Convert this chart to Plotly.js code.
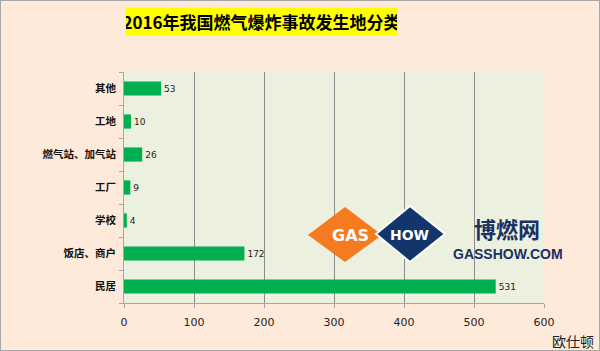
<!DOCTYPE html>
<html><head><meta charset="utf-8">
<script src="https://cdn.plot.ly/plotly-3.0.1.min.js"></script>
<style>
html,body{margin:0;padding:0;background:#FDEADA;}
#wrap{width:598px;height:349px;border:1px solid #A6A6A6;background:#FDEADA;overflow:hidden;}
#chart{width:598px;height:349px;}
</style></head><body>
<div id="wrap"><div id="chart"></div></div>
<script>
const categories = ["民居", "饭店、商户", "学校", "工厂", "燃气站、加气站", "工地", "其他"];
const counts = [531, 172, 4, 9, 26, 10, 53];
const xTicks = [0, 100, 200, 300, 400, 500, 600];
const titleText = "2016年我国燃气爆炸事故发生地分类";

const W = 598, H = 349;
const M = {l: 123, r: 55, t: 71, b: 47};
const pw = W - M.l - M.r, ph = H - M.t - M.b;
function px(x){ return (x - 1 - M.l) / pw; }
function py(y){ return (H - M.b - (y - 1)) / ph; }
function poly(pts){ return "M" + pts.map(p => px(p[0]) + "," + py(p[1])).join(" L") + " Z"; }
function ann(x, y, text, font, extra){
  return Object.assign({xref: "paper", yref: "paper", x: px(x), y: py(y), text: text, showarrow: false,
    xanchor: "center", yanchor: "middle", borderpad: 0, font: font}, extra || {});
}

const trace = {
  type: "bar", orientation: "h",
  y: categories, x: counts,
  marker: {color: "#00B050", line: {width: 0}},
  text: counts.map(String), textposition: "outside",
  textfont: {family: "DejaVu Sans, sans-serif", size: 9, color: "#222"},
  cliponaxis: false, hoverinfo: "none"
};

const layout = {
  width: W, height: H,
  margin: M,
  paper_bgcolor: "#FDEADA", plot_bgcolor: "#EBF1DE",
  showlegend: false, bargap: 0.57,
  xaxis: {
    range: [0, 600], tickvals: xTicks, ticktext: xTicks.map(String),
    showgrid: true, gridcolor: "#8C8C8C", gridwidth: 1,
    showline: true, linecolor: "#A6A6A6", linewidth: 1,
    ticks: "outside", ticklen: 4, tickcolor: "#A6A6A6",
    zeroline: false, ticklabelstandoff: 5,
    tickfont: {family: "DejaVu Sans, sans-serif", size: 11, color: "#222"}
  },
  yaxis: {
    type: "category", categoryorder: "array", categoryarray: categories,
    showline: true, linecolor: "#A6A6A6", linewidth: 1,
    ticks: "outside", ticklen: 4, tickcolor: "#A6A6A6", tickson: "boundaries",
    showgrid: false, ticklabelstandoff: 5,
    tickfont: {family: "Noto Sans CJK SC, sans-serif", size: 10.5, color: "#111", weight: "bold"}
  },
  shapes: [
    {type: "path", xref: "paper", yref: "paper", path: poly([[308,235],[345,207],[382,235],[345,262]]),
     fillcolor: "#F47B20", line: {width: 0}, layer: "above"},
    {type: "path", xref: "paper", yref: "paper", path: poly([[376,234],[410,206],[445,234],[410,262]]),
     fillcolor: "#12356B", line: {width: 2, color: "#FFFFFF"}, layer: "above"}
  ],
  annotations: [
    ann(261, 21, titleText, {family: "Noto Sans CJK SC, sans-serif", size: 17, color: "#000", weight: "bold"},
        {bgcolor: "#FFFF00", width: 271, height: 27}),
    ann(350, 235, "GAS", {family: "DejaVu Sans, sans-serif", size: 16, color: "#FFFFFF", weight: "bold"}),
    ann(409, 235, "HOW", {family: "DejaVu Sans, sans-serif", size: 14, color: "#FFFFFF", weight: "bold"}),
    ann(507, 228, "博燃网", {family: "Noto Sans CJK SC, sans-serif", size: 22, color: "#1B2F63", weight: "bold"}),
    ann(508, 254, "GASSHOW.COM", {family: "Liberation Sans, Arial, sans-serif", size: 14, color: "#1B2F63", weight: "bold"}),
    ann(573, 341, "欧仕顿", {family: "Noto Sans CJK SC, sans-serif", size: 14, color: "#222"})
  ]
};

Plotly.newPlot("chart", [trace], layout, {staticPlot: true, displayModeBar: false});
</script>
</body></html>
